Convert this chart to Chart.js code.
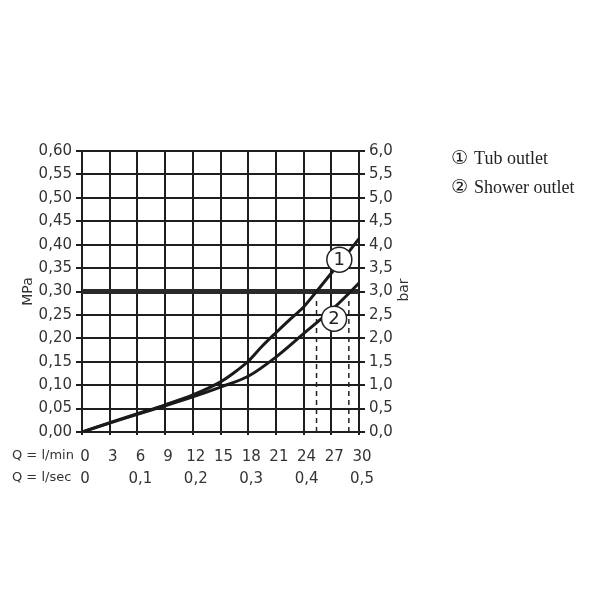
<!DOCTYPE html>
<html>
<head>
<meta charset="utf-8">
<script src="https://cdn.jsdelivr.net/npm/chart.js@4"></script>
<style>
html,body{margin:0;padding:0;background:#fff;}
#wrap{position:relative;width:603px;height:603px;}
canvas{position:absolute;left:0;top:0;}
#legend{position:absolute;left:451px;top:143px;font-family:"Liberation Serif","Times New Roman",serif;font-size:18px;color:#222;line-height:28px;}
#legend .c{font-family:"DejaVu Sans",sans-serif;font-size:19px;margin-right:6px;}
</style>
</head>
<body>
<div id="wrap">
<canvas id="c" width="603" height="603"></canvas>
<div id="legend"><div><span class="c">①</span>Tub outlet</div><div><span class="c">②</span>Shower outlet</div></div>
</div>
<script>
// Data
const tubX = [0, 3, 6, 9, 12, 15, 16.5, 18, 19.5, 21, 22.5, 24, 25.4, 27, 28.5, 30];
const tubY = [0, 0.02, 0.039, 0.058, 0.079, 0.107, 0.127, 0.151, 0.183, 0.212, 0.24, 0.267, 0.3, 0.339, 0.375, 0.413];
const showerX = [0, 3, 6, 9, 12, 15, 18, 21, 24, 27, 28.9, 30];
const showerY = [0, 0.019, 0.038, 0.056, 0.075, 0.096, 0.119, 0.16, 0.21, 0.26, 0.296, 0.318];
const limitY = 0.30;
const tubDashX = 25.4;
const showerDashX = 28.9;
const dashTop = 0.285;
const markerLabels = ['1', '2'];
const markerX = [27.87, 27.3];
const markerY = [0.368, 0.242];
const minTicks = [0, 3, 6, 9, 12, 15, 18, 21, 24, 27, 30];
const secLabels = {0: '0', 6: '0,1', 12: '0,2', 18: '0,3', 24: '0,4', 30: '0,5'};
const rowTitles = ['Q = l/min', 'Q = l/sec'];

const FONT = '"DejaVu Sans", sans-serif';
const TXT = '#333';

const pts = (xs, ys) => xs.map((x, i) => ({x, y: ys[i]}));

const overlay = {
  id: 'overlay',
  afterDatasetsDraw(chart) {
    const {ctx, scales} = chart;
    const x = scales.x, y = scales.y;
    ctx.save();
    ctx.fillStyle = '#222';
    ctx.font = '18px ' + FONT;
    ctx.textAlign = 'center';
    ctx.textBaseline = 'middle';
    markerLabels.forEach((t, i) => {
      ctx.fillText(t, x.getPixelForValue(markerX[i]), y.getPixelForValue(markerY[i]) + 1);
    });
    ctx.restore();
  },
  afterDraw(chart) {
    const {ctx, chartArea} = chart;
    ctx.save();
    ctx.fillStyle = TXT;
    ctx.font = '13px ' + FONT;
    ctx.textBaseline = 'middle';
    ctx.textAlign = 'left';
    ctx.fillText(rowTitles[0], 12, 456);
    ctx.fillText(rowTitles[1], 12, 478);
    ctx.font = '14px ' + FONT;
    ctx.translate(28, (chartArea.top + chartArea.bottom) / 2);
    ctx.rotate(-Math.PI / 2);
    ctx.textAlign = 'center';
    ctx.fillText('MPa', 0, 0);
    ctx.restore();
    ctx.save();
    ctx.fillStyle = TXT;
    ctx.font = '14px ' + FONT;
    ctx.textBaseline = 'middle';
    ctx.textAlign = 'center';
    ctx.translate(404, 290);
    ctx.rotate(-Math.PI / 2);
    ctx.fillText('bar', 0, 0);
    ctx.restore();
  }
};

new Chart(document.getElementById('c'), {
  type: 'line',
  data: {
    datasets: [
      {data: pts([0, 30], [limitY, limitY]), borderColor: '#2a2a2a', borderWidth: 5, pointRadius: 0, order: 5},
      {data: pts([tubDashX, tubDashX], [0, dashTop]), borderColor: '#222', borderWidth: 1.5, borderDash: [5, 4], pointRadius: 0, order: 6},
      {data: pts([showerDashX, showerDashX], [0, dashTop]), borderColor: '#222', borderWidth: 1.5, borderDash: [5, 4], pointRadius: 0, order: 6},
      {label: 'Tub outlet', data: pts(tubX, tubY), borderColor: '#1a1a1a', borderWidth: 3, pointRadius: 0, cubicInterpolationMode: 'monotone', order: 3},
      {label: 'Shower outlet', data: pts(showerX, showerY), borderColor: '#1a1a1a', borderWidth: 3, pointRadius: 0, cubicInterpolationMode: 'monotone', order: 3},
      {type: 'scatter', data: pts(markerX, markerY), pointRadius: 12.5, pointBackgroundColor: '#fff', pointBorderColor: '#222', pointBorderWidth: 1.5, showLine: false, order: 1}
    ]
  },
  options: {
    responsive: false,
    animation: false,
    events: [],
    layout: {padding: {top: 151, left: 0, right: 0, bottom: 0}},
    plugins: {legend: {display: false}, tooltip: {enabled: false}},
    scales: {
      x: {
        type: 'linear', min: 0, max: 30,
        afterBuildTicks(s) { s.ticks = minTicks.map(v => ({value: v})); },
        afterFit(s) { s.height = 603 - 432; },
        grid: {color: '#1e1e1e', lineWidth: 2, tickLength: 3, drawOnChartArea: true},
        border: {display: false},
        ticks: {
          font: {family: FONT, size: 15, lineHeight: 1.47}, color: TXT, padding: 11, maxRotation: 0, autoSkip: false, labelOffset: 3,
          callback: v => [String(v), secLabels[v] !== undefined ? secLabels[v] : '']
        }
      },
      y: {
        position: 'left', min: 0, max: 0.6,
        ticks: {stepSize: 0.05, font: {family: FONT, size: 15}, color: TXT, padding: 4,
          callback: v => v.toFixed(2).replace('.', ',')},
        afterFit(s) { s.width = 82; },
        grid: {color: '#1e1e1e', lineWidth: 2, tickLength: 6},
        border: {display: false}
      },
      y2: {
        position: 'right', min: 0, max: 6,
        ticks: {stepSize: 0.5, font: {family: FONT, size: 15}, color: TXT, padding: 4,
          callback: v => v.toFixed(1).replace('.', ',')},
        afterFit(s) { s.width = 603 - 359; },
        grid: {color: '#1e1e1e', lineWidth: 2, tickLength: 6, drawOnChartArea: false},
        border: {display: false}
      }
    }
  },
  plugins: [overlay]
});
</script>
</body>
</html>
